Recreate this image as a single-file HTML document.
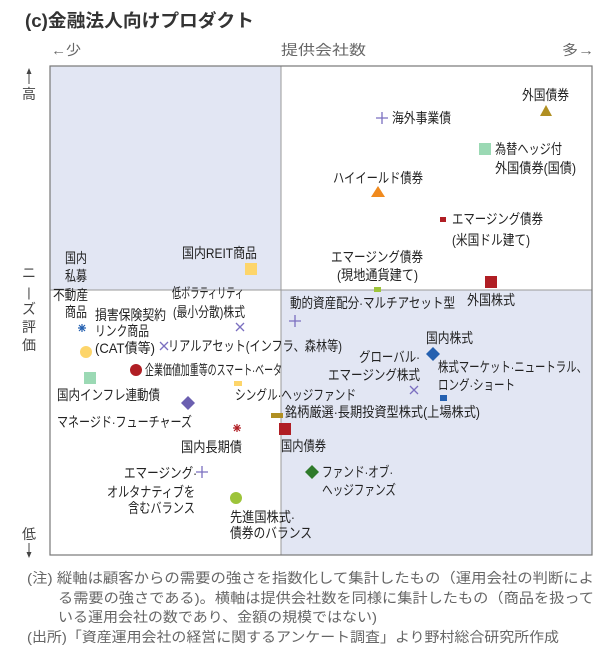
<!DOCTYPE html>
<html><head><meta charset="utf-8"><style>
html,body{margin:0;padding:0;background:#fff;}
svg{display:block;font-family:"Liberation Sans","Noto Sans CJK JP",sans-serif;}
.l{font-size:14px;fill:#222;}
.n{font-size:14px;fill:#666;}
</style></head><body>
<svg width="610" height="657" viewBox="0 0 610 657" xmlns="http://www.w3.org/2000/svg">
<text x="25" y="27" font-size="18" font-weight="bold" fill="#333" textLength="229" lengthAdjust="spacingAndGlyphs">(c)金融法人向けプロダクト</text>
<g class="n" fill="#555">
<text x="51" y="55" textLength="30" lengthAdjust="spacingAndGlyphs">←少</text>
<text x="281" y="55" textLength="85" lengthAdjust="spacingAndGlyphs">提供会社数</text>
<text x="562" y="55" textLength="32" lengthAdjust="spacingAndGlyphs">多→</text>
</g>
<rect x="50" y="66" width="231" height="224" fill="#e2e6f3"/>
<rect x="281" y="290" width="311" height="265" fill="#e2e6f3"/>
<line x1="281" y1="66" x2="281" y2="555" stroke="#999" stroke-width="1"/>
<line x1="50" y1="290" x2="592" y2="290" stroke="#999" stroke-width="1"/>
<rect x="50" y="66" width="542" height="489" fill="none" stroke="#777" stroke-width="1.2"/>
<g fill="#444" font-size="14">
<line x1="29" y1="72" x2="29" y2="84" stroke="#444" stroke-width="1"/><polygon points="29,68 26.5,74 31.5,74"/>
<text x="29" y="99" text-anchor="middle">高</text>
<text x="29" y="278" text-anchor="middle">ニ</text>
<text x="29" y="297" text-anchor="middle" font-size="13">|</text>
<text x="29" y="314" text-anchor="middle">ズ</text>
<text x="29" y="332" text-anchor="middle">評</text>
<text x="29" y="350" text-anchor="middle">価</text>
<text x="29" y="539" text-anchor="middle">低</text>
<line x1="29" y1="543" x2="29" y2="554" stroke="#444" stroke-width="1"/><polygon points="29,558 26.5,552 31.5,552"/>
</g>
<polygon points="546,105 552,116 540,116" fill="#b08f22"/>
<path d="M376,118h12M382,112v12" stroke="#7b6fc0" stroke-width="1.3"/>
<rect x="479" y="143" width="12" height="12" fill="#9bd9b4"/>
<polygon points="378,186 385,197 371,197" fill="#f08a1e"/>
<rect x="440" y="217" width="6" height="5" fill="#b01e24"/>
<rect x="374" y="287" width="7" height="5" fill="#9dc43a"/>
<rect x="485" y="276" width="12" height="12" fill="#b01e24"/>
<path d="M289,321h12M295,315v12" stroke="#7b6fc0" stroke-width="1.3"/>
<polygon points="433,347 440,354 433,361 426,354" fill="#2460b0"/>
<path d="M410,386l8,8M418,386l-8,8" stroke="#7b6fc0" stroke-width="1.3"/>
<rect x="440" y="395" width="7" height="6" fill="#2460b0"/>
<rect x="271" y="413" width="12" height="5" fill="#b08f22"/>
<rect x="279" y="423" width="12" height="12" fill="#b01e24"/>
<rect x="245" y="263" width="12" height="12" fill="#fdd56a"/>
<path d="M78,328h8M82,324v8M79,325l6,6M85,325l-6,6" stroke="#2460b0" stroke-width="1.2"/>
<circle cx="86" cy="352" r="6" fill="#fdd56a"/>
<path d="M236,323l8,8M244,323l-8,8" stroke="#7b6fc0" stroke-width="1.3"/>
<path d="M160,342l8,8M168,342l-8,8" stroke="#7b6fc0" stroke-width="1.3"/>
<circle cx="136" cy="370" r="6" fill="#b01e24"/>
<rect x="84" y="372" width="12" height="12" fill="#9bd9b4"/>
<rect x="234" y="381" width="8" height="5" fill="#fdd56a"/>
<polygon points="188,396 195,403 188,410 181,403" fill="#6b5fb0"/>
<path d="M233,428h8M237,424v8M234,425l6,6M240,425l-6,6" stroke="#b01e24" stroke-width="1.2"/>
<path d="M196,472h12M202,466v12" stroke="#7b6fc0" stroke-width="1.3"/>
<circle cx="236" cy="498" r="6" fill="#9dc43a"/>
<polygon points="312,465 319,472 312,479 305,472" fill="#2e7a2a"/>
<g class="l">
<text x="522" y="100" textLength="47" lengthAdjust="spacingAndGlyphs">外国債券</text>
<text x="392" y="123" textLength="59" lengthAdjust="spacingAndGlyphs">海外事業債</text>
<text x="495" y="154" textLength="67" lengthAdjust="spacingAndGlyphs">為替ヘッジ付</text>
<text x="495" y="173" textLength="81" lengthAdjust="spacingAndGlyphs">外国債券(国債)</text>
<text x="333" y="183" textLength="90" lengthAdjust="spacingAndGlyphs">ハイイールド債券</text>
<text x="452" y="224" textLength="91" lengthAdjust="spacingAndGlyphs">エマージング債券</text>
<text x="452" y="245" textLength="78" lengthAdjust="spacingAndGlyphs">(米国ドル建て)</text>
<text x="331" y="262" textLength="92" lengthAdjust="spacingAndGlyphs">エマージング債券</text>
<text x="337" y="280" textLength="81" lengthAdjust="spacingAndGlyphs">(現地通貨建て)</text>
<text x="467" y="305" textLength="48" lengthAdjust="spacingAndGlyphs">外国株式</text>
<text x="290" y="308" textLength="165" lengthAdjust="spacingAndGlyphs">動的資産配分·マルチアセット型</text>
<text x="426" y="343" textLength="47" lengthAdjust="spacingAndGlyphs">国内株式</text>
<text x="359" y="362" textLength="61" lengthAdjust="spacingAndGlyphs">グローバル·</text>
<text x="328" y="380" textLength="92" lengthAdjust="spacingAndGlyphs">エマージング株式</text>
<text x="438" y="372" textLength="149" lengthAdjust="spacingAndGlyphs">株式マーケット·ニュートラル、</text>
<text x="438" y="390" textLength="77" lengthAdjust="spacingAndGlyphs">ロング·ショート</text>
<text x="285" y="417" textLength="195" lengthAdjust="spacingAndGlyphs">銘柄厳選·長期投資型株式(上場株式)</text>
<text x="281" y="451" textLength="45" lengthAdjust="spacingAndGlyphs">国内債券</text>
<text x="182" y="258" textLength="75" lengthAdjust="spacingAndGlyphs">国内REIT商品</text>
<text x="65" y="263" textLength="22" lengthAdjust="spacingAndGlyphs">国内</text>
<text x="65" y="281" textLength="22" lengthAdjust="spacingAndGlyphs">私募</text>
<text x="53" y="300" textLength="35" lengthAdjust="spacingAndGlyphs">不動産</text>
<text x="65" y="317" textLength="22" lengthAdjust="spacingAndGlyphs">商品</text>
<text x="95" y="320" textLength="71" lengthAdjust="spacingAndGlyphs">損害保険契約</text>
<text x="95" y="336" textLength="54" lengthAdjust="spacingAndGlyphs">リンク商品</text>
<text x="95" y="353" textLength="60" lengthAdjust="spacingAndGlyphs">(CAT債等)</text>
<text x="172" y="298" textLength="72" lengthAdjust="spacingAndGlyphs">低ボラティリティ</text>
<text x="173" y="317" textLength="72" lengthAdjust="spacingAndGlyphs">(最小分散)株式</text>
<text x="168" y="351" textLength="174" lengthAdjust="spacingAndGlyphs">リアルアセット(インフラ、森林等)</text>
<text x="145" y="375" textLength="137" lengthAdjust="spacingAndGlyphs">企業価値加重等のスマート·ベータ</text>
<text x="57" y="400" textLength="103" lengthAdjust="spacingAndGlyphs">国内インフレ連動債</text>
<text x="235" y="400" textLength="121" lengthAdjust="spacingAndGlyphs">シングル·ヘッジファンド</text>
<text x="57" y="427" textLength="135" lengthAdjust="spacingAndGlyphs">マネージド·フューチャーズ</text>
<text x="181" y="452" textLength="61" lengthAdjust="spacingAndGlyphs">国内長期債</text>
<text x="124" y="478" textLength="73" lengthAdjust="spacingAndGlyphs">エマージング·</text>
<text x="107" y="497" textLength="88" lengthAdjust="spacingAndGlyphs">オルタナティブを</text>
<text x="128" y="513" textLength="67" lengthAdjust="spacingAndGlyphs">含むバランス</text>
<text x="230" y="522" textLength="65" lengthAdjust="spacingAndGlyphs">先進国株式·</text>
<text x="230" y="538" textLength="82" lengthAdjust="spacingAndGlyphs">債券のバランス</text>
<text x="322" y="477" textLength="71" lengthAdjust="spacingAndGlyphs">ファンド·オブ·</text>
<text x="322" y="495" textLength="74" lengthAdjust="spacingAndGlyphs">ヘッジファンズ</text>
</g>
<g class="n">
<text x="27" y="583" textLength="567" lengthAdjust="spacingAndGlyphs">(注) 縦軸は顧客からの需要の強さを指数化して集計したもの（運用会社の判断によ</text>
<text x="58" y="603" textLength="536" lengthAdjust="spacingAndGlyphs">る需要の強さである)。横軸は提供会社数を同様に集計したもの（商品を扱って</text>
<text x="58" y="622" textLength="319" lengthAdjust="spacingAndGlyphs">いる運用会社の数であり、金額の規模ではない)</text>
<text x="27" y="642" textLength="532" lengthAdjust="spacingAndGlyphs">(出所)「資産運用会社の経営に関するアンケート調査」より野村総合研究所作成</text>
</g>
</svg>
</body></html>
